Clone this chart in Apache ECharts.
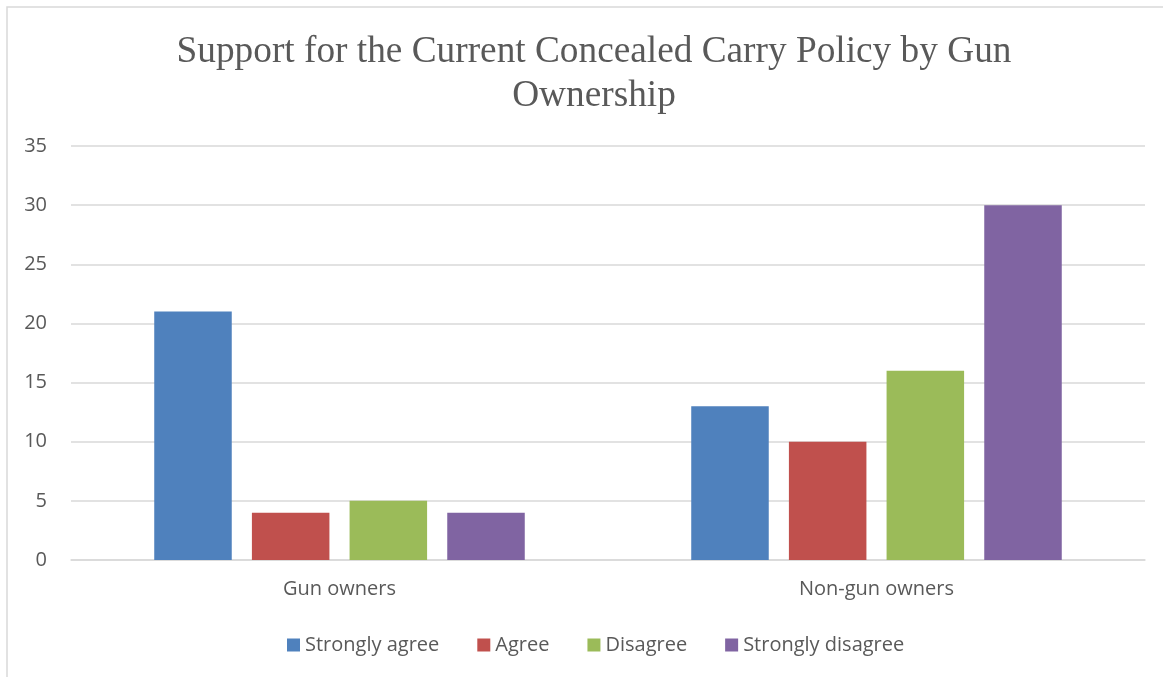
<!DOCTYPE html>
<html>
<head>
<meta charset="utf-8">
<script src="https://cdn.jsdelivr.net/npm/echarts@6/dist/echarts.min.js"></script>
<style>
  html, body { margin: 0; padding: 0; background: #fff; }
  #chart { width: 1163px; height: 677px; }
</style>
</head>
<body>
<div id="chart"></div>
<script>
// Survey responses on concealed carry policy, by gun ownership
const categories = ['Gun owners', 'Non-gun owners'];
const responseNames = ['Strongly agree', 'Agree', 'Disagree', 'Strongly disagree'];
const stronglyAgree = [21, 13];
const agree = [4, 10];
const disagree = [5, 16];
const stronglyDisagree = [4, 30];
const yTicks = { min: 0, max: 35, interval: 5 };

const seriesValues = [stronglyAgree, agree, disagree, stronglyDisagree];
const colors = ['#4f81bd', '#c0504d', '#9bbb59', '#8064a2'];
const textColor = '#595959';
const sansFont = '"Open Sans", "Liberation Sans", Arial, sans-serif';

const chart = echarts.init(document.getElementById('chart'));

chart.setOption({
  animation: false,
  backgroundColor: '#fff',
  color: colors,
  graphic: [{
    type: 'rect',
    shape: { x: 7, y: 7, width: 1200, height: 700 },
    style: { fill: 'none', stroke: '#d9d9d9', lineWidth: 1.5 },
    silent: true,
    z: -1
  }],
  title: {
    text: 'Support for the Current Concealed Carry Policy by Gun\nOwnership',
    left: 589,
    top: 25,
    textAlign: 'center',
    textStyle: {
      fontFamily: '"Liberation Serif", "Times New Roman", serif',
      fontWeight: 'normal',
      fontSize: 37.3,
      lineHeight: 44,
      color: textColor
    }
  },
  grid: { left: 71, right: 18, top: 146, bottom: 117, containLabel: false },
  legend: {
    data: responseNames,
    bottom: 17,
    left: 282,
    padding: 5,
    itemWidth: 13,
    itemHeight: 13,
    itemGap: 38,
    icon: 'rect',
    textStyle: { fontFamily: sansFont, fontSize: 20, color: textColor, padding: [0, 0, 0, 0] }
  },
  xAxis: {
    type: 'category',
    data: categories,
    axisTick: { show: false },
    axisLine: { lineStyle: { color: '#d9d9d9', width: 1.5 } },
    axisLabel: { fontFamily: sansFont, fontSize: 20, color: textColor, margin: 19 }
  },
  yAxis: {
    type: 'value',
    min: yTicks.min,
    max: yTicks.max,
    interval: yTicks.interval,
    axisLine: { show: false },
    axisTick: { show: false },
    splitLine: { lineStyle: { color: '#d9d9d9', width: 1.5 } },
    axisLabel: { fontFamily: sansFont, fontSize: 20, color: textColor, margin: 24 }
  },
  series: responseNames.map((name, i) => ({
    name: name,
    type: 'bar',
    data: seriesValues[i],
    barGap: '26%',
    barCategoryGap: '31%',
    itemStyle: { color: colors[i] }
  }))
});
</script>
</body>
</html>
